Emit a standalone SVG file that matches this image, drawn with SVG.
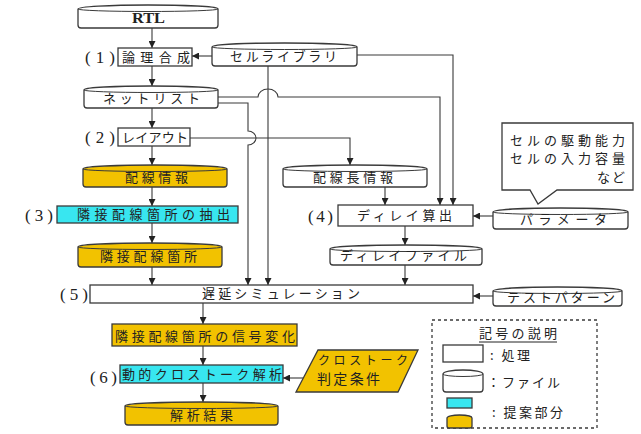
<svg xmlns="http://www.w3.org/2000/svg" width="641" height="434" viewBox="0 0 641 434">
<style>
text{font-family:"Noto Sans CJK JP","Noto Sans",sans-serif;font-size:13px;fill:#222}
.num{font-family:"Liberation Serif",serif;font-size:17px}
.rtl{font-family:"Liberation Serif",serif;font-size:15px;font-weight:bold}
.sm{font-size:12px}
.lg{font-size:14px}
.proc{fill:#fff;stroke:#3a3a3a;stroke-width:1.3}
.file{fill:#fff;stroke:#3a3a3a;stroke-width:1.3}
.y{fill:#F2C200}
.c{fill:#38E6F0}
.ln{fill:none;stroke:#3a3a3a;stroke-width:1}
.ar{fill:none;stroke:#3a3a3a;stroke-width:1.1;marker-end:url(#ah)}
</style>
<defs>
<marker id="ah" markerUnits="userSpaceOnUse" markerWidth="7" markerHeight="7" refX="7" refY="3.5" orient="auto">
<path d="M0,0 L7,3.5 L0,7 Z" fill="#222"/>
</marker>
</defs>
<rect width="641" height="434" fill="#fff"/>

<g id="connectors">
<path class="ar" d="M152,28 V48"/>
<path class="ar" d="M152,66 V86"/>
<path class="ar" d="M152,108 V128"/>
<path class="ar" d="M152,146 V165"/>
<path class="ar" d="M152,187 V206"/>
<path class="ar" d="M152,223 V243"/>
<path class="ar" d="M152,267 V285"/>
<path class="ar" d="M203,303 V324"/>
<path class="ar" d="M203,346 V365"/>
<path class="ar" d="M203,383 V402"/>
<path class="ar" d="M212,56 H192"/>
<path class="ar" d="M357,55 H453 V205"/>
<path class="ar" d="M268,66 V285"/>
<path class="ar" d="M218,97 H258 A10,8 0 0 1 278,97 H440 V205"/>
<path class="ar" d="M218,103 H248 V131 A8,7 0 0 1 248,145 V285"/>
<path class="ar" d="M190,138 H350 V165"/>
<path class="ar" d="M385,187 V205"/>
<path class="ar" d="M405,226 V245"/>
<path class="ar" d="M405,265 V285"/>
<path class="ar" d="M493,216 H473"/>
<path class="ar" d="M493,296 H473"/>
<path class="ar" d="M303,378 H283"/>
</g>

<g id="rtl">
<path class="file" d="M78,9 A70,4 0 0 1 218,9 V25 Q218,28 215,28 H81 Q78,28 78,25 Z"/>
<path class="ln" d="M78,9 A70,2.5 0 0 0 218,9"/>
<text class="rtl" x="132" y="23" textLength="33" lengthAdjust="spacingAndGlyphs">RTL</text>
</g>

<g id="label1"><text class="num" x="85" y="63" textLength="30" lengthAdjust="spacing">(1)</text></g>
<g id="ronri">
<rect class="proc" x="118" y="48" width="74" height="18"/>
<text x="122" y="62" textLength="68" lengthAdjust="spacing">論理合成</text>
</g>

<g id="cell-lib">
<path class="file" d="M212,47 A72.5,4 0 0 1 357,47 V63 Q357,66 354,66 H215 Q212,66 212,63 Z"/>
<path class="ln" d="M212,47 A72.5,2.5 0 0 0 357,47"/>
<text x="230" y="61" textLength="107" lengthAdjust="spacing">セルライブラリ</text>
</g>

<g id="netlist">
<path class="file" d="M84,90 A67,4 0 0 1 218,90 V105 Q218,108 215,108 H87 Q84,108 84,105 Z"/>
<path class="ln" d="M84,90 A67,2.5 0 0 0 218,90"/>
<text x="103" y="103" textLength="97" lengthAdjust="spacing">ネットリスト</text>
</g>

<g id="label2"><text class="num" x="85" y="143" textLength="30" lengthAdjust="spacing">(2)</text></g>
<g id="layout">
<rect class="proc" x="118" y="128" width="72" height="18"/>
<text x="122" y="142" textLength="66" lengthAdjust="spacing">レイアウト</text>
</g>

<g id="haisen-info">
<path class="file y" d="M83,169 A72,4 0 0 1 227,169 V184 Q227,187 224,187 H86 Q83,187 83,184 Z"/>
<path class="ln" d="M83,169 A72,2.5 0 0 0 227,169"/>
<text x="125" y="182" textLength="63" lengthAdjust="spacing">配線情報</text>
</g>

<g id="label3"><text class="num" x="25" y="221" textLength="28" lengthAdjust="spacing">(3)</text></g>
<g id="extract">
<rect class="proc c" x="57" y="206" width="181" height="17"/>
<text x="77" y="219" textLength="153" lengthAdjust="spacing">隣接配線箇所の抽出</text>
</g>

<g id="adjacent">
<path class="file y" d="M78,247 A72,4 0 0 1 222,247 V264 Q222,267 219,267 H81 Q78,267 78,264 Z"/>
<path class="ln" d="M78,247 A72,2.5 0 0 0 222,247"/>
<text x="100" y="261" textLength="97" lengthAdjust="spacing">隣接配線箇所</text>
</g>

<g id="label5"><text class="num" x="60" y="300" textLength="28" lengthAdjust="spacing">(5)</text></g>
<g id="delay-sim">
<rect class="proc" x="90" y="285" width="383" height="18"/>
<text x="202" y="298" textLength="158" lengthAdjust="spacing">遅延シミュレーション</text>
</g>

<g id="test-pattern">
<path class="file" d="M493,291 A64.5,4 0 0 1 622,291 V303 Q622,306 619,306 H496 Q493,306 493,303 Z"/>
<path class="ln" d="M493,291 A64.5,2.5 0 0 0 622,291"/>
<text x="507" y="302" textLength="108" lengthAdjust="spacing">テストパターン</text>
</g>

<g id="signal-change">
<rect class="proc y" x="112" y="324" width="185" height="22"/>
<text x="115" y="341" textLength="180" lengthAdjust="spacing">隣接配線箇所の信号変化</text>
</g>

<g id="label6"><text class="num" x="90" y="383" textLength="27" lengthAdjust="spacing">(6)</text></g>
<g id="crosstalk">
<rect class="proc c" x="120" y="365" width="163" height="18"/>
<text x="122" y="379" textLength="160" lengthAdjust="spacing">動的クロストーク解析</text>
</g>

<g id="criteria">
<path class="proc y" d="M318,350 H418 L398,392 H296 Z"/>
<text class="sm" x="318" y="365" textLength="90" lengthAdjust="spacing">クロストーク</text>
<text class="lg" x="317" y="384" textLength="63" lengthAdjust="spacing">判定条件</text>
</g>

<g id="result">
<path class="file y" d="M125,406 A76.5,4 0 0 1 278,406 V422 Q278,425 275,425 H128 Q125,425 125,422 Z"/>
<path class="ln" d="M125,406 A76.5,2.5 0 0 0 278,406"/>
<text x="170" y="420" textLength="63" lengthAdjust="spacing">解析結果</text>
</g>

<g id="wire-length">
<path class="file" d="M283,169 A72,4 0 0 1 427,169 V184 Q427,187 424,187 H286 Q283,187 283,184 Z"/>
<path class="ln" d="M283,169 A72,2.5 0 0 0 427,169"/>
<text x="313" y="182" textLength="80" lengthAdjust="spacing">配線長情報</text>
</g>

<g id="label4"><text class="num" x="308" y="222" textLength="25" lengthAdjust="spacing">(4)</text></g>
<g id="delay-calc">
<rect class="proc" x="338" y="205" width="135" height="21"/>
<text x="357" y="220" textLength="95" lengthAdjust="spacing">ディレイ算出</text>
</g>

<g id="delay-file">
<path class="file" d="M330,249 A76,4 0 0 1 482,249 V262 Q482,265 479,265 H333 Q330,265 330,262 Z"/>
<path class="ln" d="M330,249 A76,2.5 0 0 0 482,249"/>
<text x="340" y="260" textLength="127" lengthAdjust="spacing">ディレイファイル</text>
</g>

<g id="parameter">
<path class="file" d="M493,212 A67.5,4 0 0 1 628,212 V226 Q628,229 625,229 H496 Q493,229 493,226 Z"/>
<path class="ln" d="M493,212 A67.5,2.5 0 0 0 628,212"/>
<text x="520" y="224" textLength="87" lengthAdjust="spacing">パラメータ</text>
</g>

<g id="callout">
<path class="proc" d="M502,123 H633 V190 H557 L538,204 L530,190 H502 Z"/>
<text x="510" y="145" textLength="115" lengthAdjust="spacing">セルの駆動能力</text>
<text x="510" y="163" textLength="115" lengthAdjust="spacing">セルの入力容量</text>
<text x="597" y="182" textLength="28" lengthAdjust="spacing">など</text>
</g>

<g id="legend">
<rect x="432" y="320" width="165" height="108" fill="none" stroke="#3a3a3a" stroke-width="1.3" stroke-dasharray="3,3"/>
<text x="479" y="338" textLength="78" lengthAdjust="spacing">記号の説明</text>
<line x1="479" y1="342" x2="557" y2="342" stroke="#222" stroke-width="1"/>
<rect class="proc" x="443" y="345" width="40" height="17"/>
<text x="490" y="360" textLength="40" lengthAdjust="spacing">: 処理</text>
<path class="file" d="M443,374 A20,4 0 0 1 483,374 V389 Q483,392 480,392 H446 Q443,392 443,389 Z"/>
<path class="ln" d="M443,374 A20,2.5 0 0 0 483,374"/>
<text x="487" y="387" textLength="73" lengthAdjust="spacing">：ファイル</text>
<rect class="proc c" x="447" y="398" width="25" height="10"/>
<path class="file y" d="M447,418 A12.5,3 0 0 1 472,418 V426 Q472,428 470,428 H449 Q447,428 447,426 Z"/>
<text x="492" y="417" textLength="71" lengthAdjust="spacing">: 提案部分</text>
</g>
</svg>
